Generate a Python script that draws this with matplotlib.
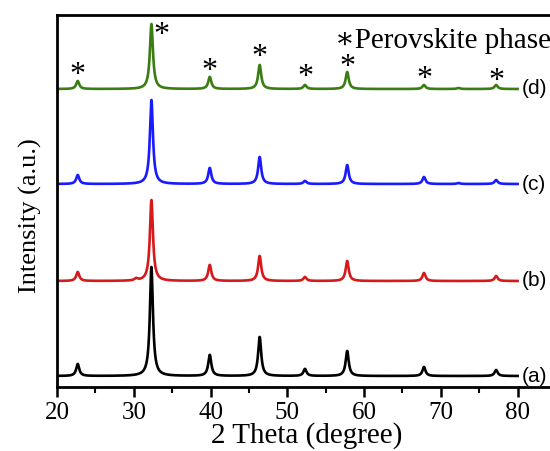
import numpy as np
import matplotlib
matplotlib.use("Agg")
import matplotlib.pyplot as plt

# peak positions (2 theta) and heights
PEAKS = [22.7, 30.3, 32.3, 39.9, 46.4, 52.3, 57.8, 67.8, 72.3, 77.2]
HEIGHTS = {
    "a": [12, 0, 109, 21, 39, 7, 25, 9, 0, 6],
    "b": [9, 2, 81, 16, 25, 4, 20, 8, 0, 5],
    "c": [9, 0, 84, 16, 27, 3, 19, 7, 1, 4],
    "d": [8, 0, 65, 12, 24, 4, 17, 4, 1, 4],
}
OFFSETS = {"a": 11, "b": 106, "c": 203, "d": 298}
COLORS = {"a": "black", "b": "#d7191c", "c": "#1a1aff", "d": "#3a7d12"}
LABELS = ["a", "b", "c", "d"]

# asterisk markers over the (d) pattern
STAR_X = [22.7, 33.6, 39.9, 46.4, 52.3, 57.8, 67.8, 77.2]
STAR_Y = [312, 352, 316, 330, 309, 320, 308, 306]

SERIF = ["Liberation Serif", "DejaVu Serif", "DejaVu Sans"]

x = np.linspace(20, 80, 3000)


def pattern(heights, w=0.24):
    y = np.zeros_like(x)
    for p, h in zip(PEAKS, heights):
        y += h / (1 + ((x - p) / w) ** 2)
    return y


fig = plt.figure(figsize=(5.5, 4.51), dpi=100)
ax = fig.add_axes([57 / 550, 64 / 451, 499 / 550, 372 / 451])

for k in LABELS:
    ax.plot(x, OFFSETS[k] + pattern(HEIGHTS[k]), color=COLORS[k], lw=1.9)
    ax.text(80.5, OFFSETS[k], f"({k})", fontsize=15, family="Liberation Sans",
            va="center", ha="left")

for sx, sy in zip(STAR_X, STAR_Y):
    ax.text(sx, sy, "*", fontsize=23, family=SERIF, ha="center", va="center")

ax.text(0.557, 0.93, "\u2217Perovskite phase", transform=ax.transAxes,
        fontsize=21, family=SERIF, ha="left", va="center")

ax.set_xlim(20, 85)
ax.set_ylim(0, 372)
ax.set_xticks([20, 30, 40, 50, 60, 70, 80])
ax.set_xticks([25, 35, 45, 55, 65, 75], minor=True)
ax.set_yticks([])
ax.tick_params(axis="x", which="major", length=7, width=1.8, labelsize=18)
ax.tick_params(axis="x", which="minor", length=4, width=1.5)
for lbl in ax.get_xticklabels():
    lbl.set_family("Liberation Serif")
for s in ax.spines.values():
    s.set_linewidth(2)
ax.spines["right"].set_visible(False)

ax.set_xlabel("2 Theta (degree)", fontsize=21, family="Liberation Serif", labelpad=-1)
ax.set_ylabel("Intensity (a.u.)", fontsize=19, family="Liberation Serif")
ax.yaxis.set_label_coords(-0.03, 0.46)

fig.savefig("out.png", dpi=100)
